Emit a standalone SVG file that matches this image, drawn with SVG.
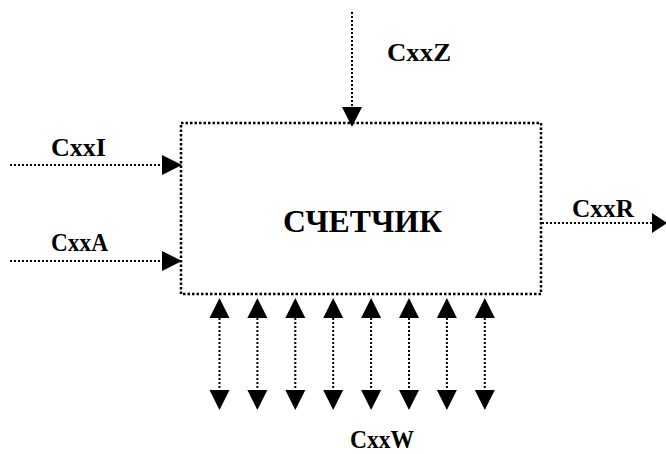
<svg xmlns="http://www.w3.org/2000/svg" width="666" height="454" viewBox="0 0 666 454">
<style>
.ln{stroke:#000;stroke-width:2;stroke-dasharray:2 2;fill:none}
.box{stroke:#000;stroke-width:2.5;stroke-dasharray:2.5 2;fill:#fff}
.t{font-family:"Liberation Serif","Times New Roman",serif;font-weight:bold;font-size:26px;fill:#000}
.big{font-size:32px}
.ah{fill:#000}
</style>
<rect width="666" height="454" fill="#fff"/>
<g id="node-counter">
<rect class="box" x="181" y="123" width="360" height="171"/>
<text class="t big" x="283" y="232" textLength="159" lengthAdjust="spacingAndGlyphs">СЧЕТЧИК</text>
</g>
<g id="connectors">
<line class="ln" x1="352" y1="12" x2="352" y2="108"/>
<polygon class="ah" points="342,107 362,107 352,127"/>
<line class="ln" x1="10" y1="165" x2="163" y2="165"/>
<polygon class="ah" points="162,155 162,175 182,165"/>
<line class="ln" x1="10" y1="261" x2="163" y2="261"/>
<polygon class="ah" points="162,251 162,271 182,261"/>
<line class="ln" x1="542" y1="223" x2="653" y2="223"/>
<polygon class="ah" points="652,213 652,233 667,223"/>
<g id="bus">
<line class="ln" x1="219.5" y1="318" x2="219.5" y2="391"/>
<polygon class="ah" points="209.5,318 229.5,318 219.5,298"/>
<polygon class="ah" points="209.5,390 229.5,390 219.5,410"/>
<line class="ln" x1="257.4" y1="318" x2="257.4" y2="391"/>
<polygon class="ah" points="247.4,318 267.4,318 257.4,298"/>
<polygon class="ah" points="247.4,390 267.4,390 257.4,410"/>
<line class="ln" x1="295.3" y1="318" x2="295.3" y2="391"/>
<polygon class="ah" points="285.3,318 305.3,318 295.3,298"/>
<polygon class="ah" points="285.3,390 305.3,390 295.3,410"/>
<line class="ln" x1="333.2" y1="318" x2="333.2" y2="391"/>
<polygon class="ah" points="323.2,318 343.2,318 333.2,298"/>
<polygon class="ah" points="323.2,390 343.2,390 333.2,410"/>
<line class="ln" x1="371.1" y1="318" x2="371.1" y2="391"/>
<polygon class="ah" points="361.1,318 381.1,318 371.1,298"/>
<polygon class="ah" points="361.1,390 381.1,390 371.1,410"/>
<line class="ln" x1="409" y1="318" x2="409" y2="391"/>
<polygon class="ah" points="399,318 419,318 409,298"/>
<polygon class="ah" points="399,390 419,390 409,410"/>
<line class="ln" x1="446.9" y1="318" x2="446.9" y2="391"/>
<polygon class="ah" points="436.9,318 456.9,318 446.9,298"/>
<polygon class="ah" points="436.9,390 456.9,390 446.9,410"/>
<line class="ln" x1="484.8" y1="318" x2="484.8" y2="391"/>
<polygon class="ah" points="474.8,318 494.8,318 484.8,298"/>
<polygon class="ah" points="474.8,390 494.8,390 484.8,410"/>
</g>
</g>
<g id="labels">
<text class="t" x="387" y="61" textLength="64" lengthAdjust="spacingAndGlyphs">CxxZ</text>
<text class="t" x="51" y="155.5" textLength="55" lengthAdjust="spacingAndGlyphs">CxxI</text>
<text class="t" x="51" y="250.5" textLength="57" lengthAdjust="spacingAndGlyphs">CxxA</text>
<text class="t" x="572" y="216.5" textLength="62" lengthAdjust="spacingAndGlyphs">CxxR</text>
<text class="t" x="350" y="448" textLength="64" lengthAdjust="spacingAndGlyphs">CxxW</text>
</g>
</svg>
